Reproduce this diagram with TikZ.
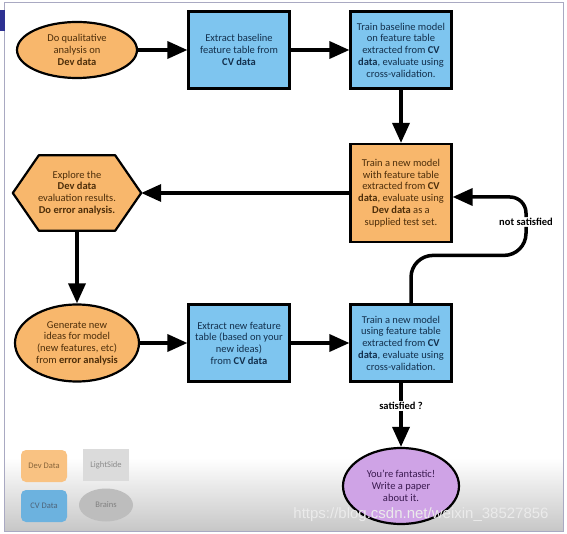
\documentclass[tikz,border=0pt]{standalone}
\usepackage{fontspec}
\setmainfont{Carlito}
\newfontfamily\urlfont{Liberation Sans}
\usepackage{tikz}
\usetikzlibrary{arrows.meta,backgrounds,shapes,calc,positioning}
\definecolor{devorange}{HTML}{F8B76C}
\definecolor{devtext}{HTML}{4D2E0A}
\definecolor{cvblue}{HTML}{7EC5EF}
\definecolor{cvtext}{HTML}{13304D}
\definecolor{paperpurple}{HTML}{CFA3E6}
\definecolor{papertext}{HTML}{3A1A50}
\definecolor{slideframe}{HTML}{A9A9C2}
\definecolor{slidetab}{HTML}{2E3192}
\definecolor{keyblue}{HTML}{6CB2DF}

\begin{document}
\begin{tikzpicture}[x=1pt, y=-1pt]
\tikzstyle{main}=[draw=black, line width=2.2pt, align=center, font=\fontsize{10.5}{11.7}\selectfont, node distance=162pt]
\tikzstyle{cvbox}=[main, rectangle, fill=cvblue, text=cvtext, minimum width=101pt, minimum height=77pt, inner sep=1pt]
\tikzstyle{devbox}=[cvbox, fill=devorange, text=devtext, minimum height=98pt]
\tikzstyle{devell}=[main, ellipse, fill=devorange, text=devtext, inner sep=0pt]
\tikzstyle{paperell}=[main, ellipse, fill=paperpurple, text=papertext, inner sep=0pt]
\tikzstyle{hexa}=[align=center, font=\fontsize{10.5}{11.7}\selectfont, text=devtext, minimum width=128pt, minimum height=75pt, inner sep=0pt]
\tikzstyle{hexline}=[draw=black, line width=2.2pt, fill=devorange, line join=round]
\tikzstyle{connect}=[-{Triangle[length=20pt,width=17pt]}, line width=3.5pt]
\tikzstyle{plain}=[line width=3.5pt]
\tikzstyle{note}=[font=\bfseries\fontsize{10.5}{12}\selectfont, inner sep=1pt]
\tikzstyle{legend}=[minimum width=46pt, minimum height=32pt, font=\fontsize{8.5}{10}\selectfont, inner sep=0pt]

  \useasboundingbox (0,0) rectangle (567,534);

  % slide
  \shade[top color=white, bottom color=black!22] (4,458) rectangle (563,531);
  \draw[slideframe, line width=1pt] (4,3) rectangle (563,531);
  \fill[slidetab] (0,10) rectangle (5,31);

  % first pass
  \node[devell, minimum width=120pt, minimum height=56pt] (qual) at (77,50)
        {Do qualitative\\analysis on\\\textbf{Dev data}};
  \node[cvbox] (basefeat) [right of =qual]
        {Extract baseline\\feature table from\\\textbf{CV data}};
  \node[cvbox] (basetrain) [right of =basefeat]
        {Train baseline model\\on feature table\\extracted from \textbf{CV}\\\textbf{data}, evaluate using\\cross-validation.};
  \node[devbox] (devtrain) [below of =basetrain, node distance=143pt]
        {Train a new model\\with feature table\\extracted from \textbf{CV}\\\textbf{data}, evaluate using\\\textbf{Dev data} as a\\supplied test set.};
  \node[hexa] (explore) [left of =devtrain, node distance=324pt]
        {Explore the\\\textbf{Dev data}\\evaluation results.\\\textbf{Do error analysis.}};

  % second pass
  \node[devell, minimum width=124pt, minimum height=77pt] (ideas) [below of =explore, node distance=150pt]
        {Generate new\\ideas for model\\(new features, etc)\\from \textbf{error analysis}};
  \node[cvbox] (newfeat) [right of =ideas]
        {Extract new feature\\table (based on your\\new ideas)\\from \textbf{CV data}};
  \node[cvbox] (cvtrain) [right of =newfeat]
        {Train a new model\\using feature table\\extracted from \textbf{CV}\\\textbf{data}, evaluate using\\cross-validation.};
  \node[paperell, minimum width=116pt, minimum height=76pt] (done) [below of =cvtrain, node distance=143pt]
        {You're fantastic!\\Write a paper\\about it.};

  \node[note] (satq) [below of =cvtrain, node distance=63pt] {satisfied ?};
  \node[note] (notsat) at (526,222) {not satisfied};

  \begin{pgfonlayer}{background}
    \draw[hexline] (explore.west) -- ([xshift=26pt]explore.north west)
          -- ([xshift=-26pt]explore.north east) -- (explore.east)
          -- ([xshift=-26pt]explore.south east) -- ([xshift=26pt]explore.south west) -- cycle;
  \end{pgfonlayer}

  \path (qual)      edge [connect] (basefeat)
        (basefeat)  edge [connect] (basetrain)
        (basetrain) edge [connect] (devtrain)
        (devtrain)  edge [connect] (explore)
        (explore)   edge [connect] (ideas)
        (ideas)     edge [connect] (newfeat)
        (newfeat)   edge [connect] (cvtrain)
        (cvtrain)   edge [plain]   (satq)
        (satq)      edge [connect] (done);

  \draw[plain, rounded corners=22pt] ([xshift=10pt]cvtrain.north) -- ++(0,-48) -| (notsat.south);
  \draw[connect, rounded corners=16pt] (notsat.north) |- ([yshift=-4pt]devtrain.east);

  % legend
  \node[legend, fill=devorange!85, rounded corners=5pt, text=devorange!55!black] (devkey) at (44,466) {Dev Data};
  \node[legend, fill=black!14, text=black!45] (lskey) at (106,465) {LightSide};
  \node[legend, fill=keyblue, rounded corners=5pt, text=cvtext!75] (cvkey) at (44,506) {CV Data};
  \node[legend, ellipse, fill=black!26, text=black!50, minimum width=54pt, minimum height=33pt] (brainkey) at (106,505) {Brains};

  \node[font=\urlfont\fontsize{15}{15}\selectfont, text=white!92!black] (wm) at (421,515) {https://blog.csdn.net/weixin\_38527856};

\end{tikzpicture}
\end{document}
